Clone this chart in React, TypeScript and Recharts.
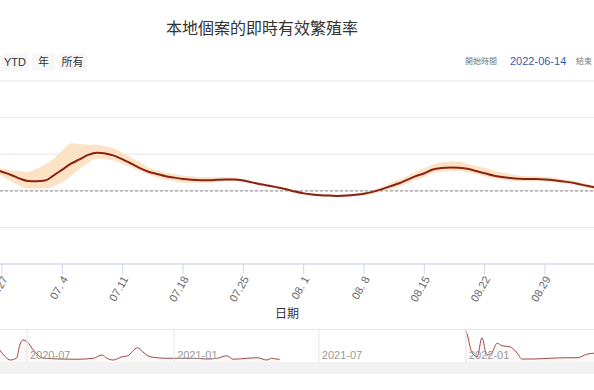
import React from 'react';
import {
  ComposedChart, Line, Area, XAxis, YAxis, CartesianGrid, ReferenceLine,
} from 'recharts';

// ---- main chart data (day offsets from 2022-06-27; first value is 06-26) ----
const firstDayOffset = -1;
const rValues = [
  1.30, 1.26, 1.22, 1.17, 1.135, 1.13, 1.14, 1.21, 1.29, 1.37, 1.43, 1.49, 1.52, 1.51, 1.48, 1.43,
  1.37, 1.31, 1.26, 1.23, 1.20, 1.18, 1.16, 1.15, 1.145, 1.145, 1.15, 1.155, 1.155, 1.14, 1.115,
  1.09, 1.07, 1.045, 1.02, 0.99, 0.965, 0.95, 0.94, 0.935, 0.93, 0.935, 0.945, 0.96, 0.985, 1.02,
  1.06, 1.10, 1.15, 1.20, 1.24, 1.29, 1.31, 1.32, 1.315, 1.30, 1.27, 1.24, 1.21, 1.19, 1.175,
  1.165, 1.16, 1.16, 1.155, 1.145, 1.13, 1.115, 1.09, 1.065, 1.04,
];
const rLow = [
  1.25, 1.20, 1.13, 1.07, 1.03, 1.03, 1.03, 1.06, 1.12, 1.20, 1.30, 1.38, 1.44, 1.43, 1.41, 1.37,
  1.32, 1.27, 1.22, 1.18, 1.15, 1.13, 1.11, 1.11, 1.11, 1.11, 1.12, 1.13, 1.13, 1.12, 1.10,
  1.075, 1.055, 1.03, 1.005, 0.975, 0.95, 0.935, 0.925, 0.92, 0.915, 0.92, 0.93, 0.94, 0.96, 0.99,
  1.02, 1.06, 1.10, 1.15, 1.19, 1.24, 1.26, 1.27, 1.27, 1.25, 1.23, 1.20, 1.17, 1.15, 1.14,
  1.13, 1.13, 1.13, 1.13, 1.12, 1.10, 1.09, 1.07, 1.04, 1.02,
];
const rHigh = [
  1.34, 1.30, 1.28, 1.27, 1.26, 1.30, 1.36, 1.44, 1.55, 1.65, 1.64, 1.63, 1.63, 1.61, 1.58, 1.52,
  1.45, 1.39, 1.32, 1.28, 1.25, 1.23, 1.21, 1.20, 1.19, 1.19, 1.19, 1.19, 1.18, 1.16, 1.13,
  1.105, 1.085, 1.06, 1.035, 1.005, 0.98, 0.965, 0.955, 0.95, 0.945, 0.95, 0.96, 0.98, 1.01, 1.05,
  1.10, 1.15, 1.20, 1.26, 1.31, 1.36, 1.39, 1.40, 1.40, 1.37, 1.34, 1.31, 1.28, 1.25, 1.23,
  1.21, 1.20, 1.20, 1.19, 1.18, 1.16, 1.14, 1.12, 1.09, 1.07,
];
const tickDays = [0, 7, 14, 21, 28, 35, 42, 49, 56, 63];
const tickLabels = ['06.27', '07. 4', '07.11', '07.18', '07.25', '08. 1', '08. 8', '08.15', '08.22', '08.29'];
const yTicks = [0, 0.5, 1, 1.5, 2, 2.5];

// ---- navigator data (day offsets from 2020-07-01) ----
const navDays = [
  -34, -27, -21, -13, -9, -5, 0, 8, 20, 41, 63, 83, 94, 100, 108, 119, 126, 138, 145, 154, 175,
  188, 208, 225, 238, 250, 258, 275, 288, 300, 306, 313, 316, 430, 548, 550, 556, 563, 569, 575,
  581, 588, 594, 604, 613, 619, 633, 654, 675, 688, 700, 709, 720,
];
const navValues: (number | null)[] = [
  1.56, 1.02, 0.76, 0.92, 1.96, 2.36, 2.22, 1.56, 0.92, 0.84, 0.82, 0.90, 1.16, 0.90, 0.76, 1.02,
  1.10, 1.74, 1.40, 1.02, 0.90, 0.90, 0.90, 0.84, 0.90, 1.10, 0.82, 0.90, 0.94, 0.76, 0.90, 0.82,
  0.82, null, 3.10, 2.90, 1.42, 1.02, 2.54, 1.16, 1.32, 2.10, 1.90, 1.82, 1.32, 0.84, 0.84, 0.90,
  0.94, 0.94, 1.22, 1.30, 1.30,
];
const navTickDays = [0, 184, 365, 549];
const navTickLabels = ['2020-07', '2021-01', '2021-07', '2022-01'];

const mainData = rValues.map((r, i) => ({
  d: i + firstDayOffset,
  r,
  band: [rLow[i], rHigh[i]],
}));
const navData = navDays.map((d, i) => ({ d, v: navValues[i] }));

const FONT = "'Liberation Sans', Arial, 'Noto Sans CJK TC', sans-serif";

const RotTick = (props: any) => {
  const { x, y, payload } = props;
  const idx = tickDays.indexOf(payload.value);
  return (
    <g transform={`translate(${x + 6},${y + 3}) rotate(-60)`}>
      <text x={0} y={0} textAnchor="end" fontSize={11} fill="#666666" fontFamily={FONT}>
        {tickLabels[idx]}
      </text>
    </g>
  );
};

const btn: React.CSSProperties = {
  position: 'absolute', top: 53, height: 18, background: '#f7f7f7', color: '#333',
  fontSize: 11, lineHeight: '18px', textAlign: 'center', fontFamily: FONT,
};

export default function App() {
  return (
    <div style={{ position: 'fixed', left: 0, top: 0, width: 594, height: 390, overflow: 'hidden', background: '#fff', fontFamily: FONT }}>
      <div style={{ position: 'absolute', top: 18, left: 0, width: 524, textAlign: 'center', fontSize: 16, color: '#333', lineHeight: '22px' }}>
        本地個案的即時有效繁殖率
      </div>
      <div style={{ ...btn, left: 2, width: 26 }}>YTD</div>
      <div style={{ ...btn, left: 32, width: 23 }}>年</div>
      <div style={{ ...btn, left: 59, width: 27 }}>所有</div>
      <div style={{ position: 'absolute', top: 55, left: 465, fontSize: 8, lineHeight: '14px', color: '#777', whiteSpace: 'nowrap' }}>開始時間</div>
      <div style={{ position: 'absolute', top: 54, left: 510, fontSize: 11, lineHeight: '14px', color: '#335cad', whiteSpace: 'nowrap' }}>2022-06-14</div>
      <div style={{ position: 'absolute', top: 55, left: 576, fontSize: 8, lineHeight: '14px', color: '#777', whiteSpace: 'nowrap' }}>結束</div>

      <div style={{ position: 'absolute', left: 0, top: 0 }}>
        <ComposedChart width={594} height={330} data={mainData} margin={{ top: 81, right: 0, bottom: 0, left: 0 }}>
          <CartesianGrid vertical={false} stroke="#e6e6e6" />
          <XAxis
            dataKey="d"
            type="number"
            domain={[-0.232, 68.69]}
            allowDataOverflow
            ticks={tickDays}
            interval={0}
            height={66}
            tickSize={10}
            tick={<RotTick />}
            stroke="#ccd6eb"
            tickLine={{ stroke: '#ccd6eb' }}
            axisLine={{ stroke: '#ccd6eb' }}
            label={{ value: '日期', position: 'insideBottom', offset: 12, dx: -10, fill: '#333', fontSize: 12 }}
          />
          <YAxis hide domain={[0, 2.5]} ticks={yTicks} allowDataOverflow />
          <Area
            type="monotone"
            dataKey="band"
            stroke="none"
            fill="#fde3c6"
            fillOpacity={1}
            isAnimationActive={false}
          />
          <ReferenceLine y={1} stroke="#a0a0a0" strokeDasharray="3 2" strokeWidth={1.2} />
          <Line
            type="monotone"
            dataKey="r"
            stroke="#8a2214"
            strokeWidth={2}
            dot={false}
            isAnimationActive={false}
          />
        </ComposedChart>
      </div>

      <div style={{ position: 'absolute', left: 0, top: 329, width: 594, borderTop: '1px solid #e6e6e6' }} />
      <div style={{ position: 'absolute', left: 0, top: 330 }}>
        <ComposedChart width={594} height={32} data={navData} margin={{ top: 0, right: 0, bottom: 0, left: 0 }}>
          <XAxis
            dataKey="d"
            type="number"
            domain={[-33.77, 709.1]}
            allowDataOverflow
            hide
          />
          <YAxis hide domain={[0.6, 3.16]} allowDataOverflow />
          {navTickDays.map((d, i) => (
            <ReferenceLine
              key={d}
              x={d}
              stroke="#e6e6e6"
              label={{ value: navTickLabels[i], position: 'insideBottomLeft', offset: 3, fill: '#999999', fontSize: 11 }}
            />
          ))}
          <Area
            type="monotone"
            dataKey="v"
            stroke="#9b4a44"
            strokeWidth={1}
            fill="#f8eeee"
            fillOpacity={0.4}
            connectNulls={false}
            isAnimationActive={false}
          />
        </ComposedChart>
      </div>
      <div style={{ position: 'absolute', left: 0, top: 362, width: 594, height: 12, background: '#f2f2f2' }} />
    </div>
  );
}
